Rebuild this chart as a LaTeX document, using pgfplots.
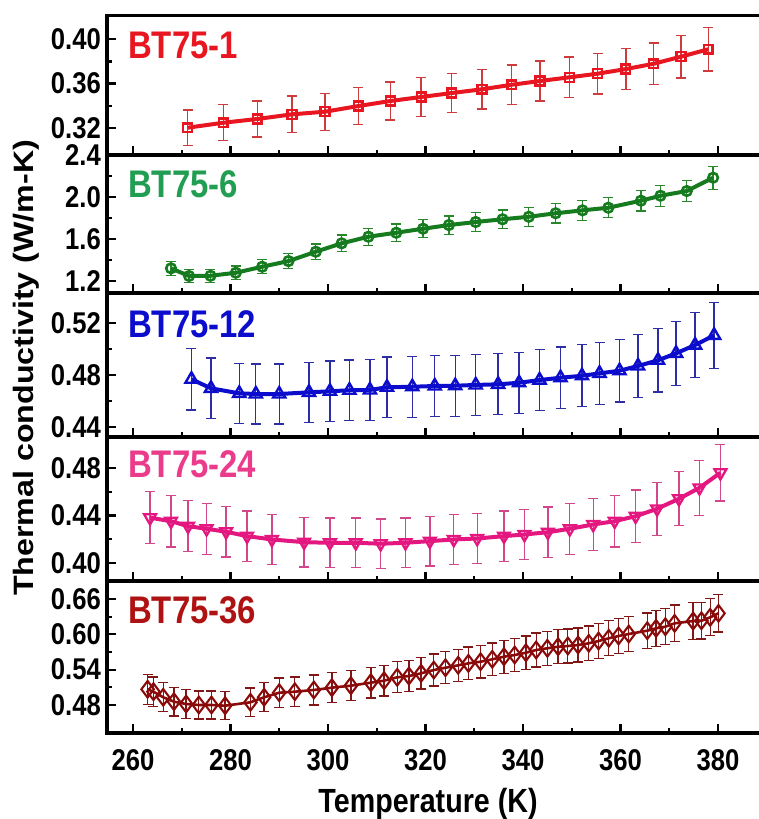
\documentclass[border=0pt]{standalone}
\usepackage{pgfplots}
\pgfplotsset{compat=1.18}
\usepackage{fontspec}
\setmainfont{Liberation Sans}[FakeStretch=0.855]
\newfontfamily\ylabfont{Liberation Sans}[FakeStretch=1.15]

\definecolor{redA}{RGB}{232,22,32}
\definecolor{redE}{RGB}{205,60,60}
\definecolor{grnA}{RGB}{22,122,30}
\definecolor{grnL}{RGB}{34,158,82}
\definecolor{grnE}{RGB}{40,135,40}
\definecolor{bluA}{RGB}{12,12,205}
\definecolor{bluE}{RGB}{45,45,165}
\definecolor{pnkA}{RGB}{228,22,128}
\definecolor{pnkL}{RGB}{235,60,140}
\definecolor{pnkE}{RGB}{210,70,140}
\definecolor{drdA}{RGB}{138,10,10}
\definecolor{drdL}{RGB}{175,18,18}
\definecolor{drdE}{RGB}{128,22,22}

% BT75-1
\pgfplotstableread{
T k
271.2 0.3200
278.5 0.3245
285.5 0.3279
292.6 0.3321
299.4 0.3345
306.2 0.3396
312.8 0.3442
319.1 0.3478
325.4 0.3514
331.6 0.3548
337.7 0.3589
343.5 0.3623
349.5 0.3656
355.3 0.3689
361.1 0.3731
366.8 0.3779
372.4 0.3843
378.0 0.3910
}\tabA
% BT75-6
\pgfplotstableread{
T k
267.8 1.321
271.5 1.248
275.9 1.250
281.1 1.279
286.5 1.336
291.9 1.390
297.5 1.479
302.8 1.559
308.3 1.622
314.0 1.660
319.5 1.698
324.8 1.733
330.3 1.762
335.8 1.788
341.2 1.812
346.7 1.845
352.2 1.873
357.5 1.898
364.2 1.965
368.2 2.012
373.6 2.057
379.0 2.184
}\tabB
% BT75-12
\pgfplotstableread{
T k
272.0 0.4767
276.0 0.4697
281.8 0.4658
285.2 0.4653
290.0 0.4653
296.1 0.4666
300.4 0.4674
304.4 0.4682
308.6 0.4684
312.1 0.4705
317.3 0.4709
321.9 0.4715
326.1 0.4717
330.3 0.4723
334.9 0.4728
339.2 0.4740
343.4 0.4761
347.7 0.4779
352.1 0.4794
355.7 0.4813
359.8 0.4833
363.6 0.4870
367.7 0.4914
371.4 0.4968
375.3 0.5032
379.2 0.5107
}\tabC
% BT75-24
\pgfplotstableread{
T k
263.5 0.4381
267.8 0.4352
271.3 0.4310
275.1 0.4288
279.1 0.4263
283.4 0.4226
288.5 0.4198
295.1 0.4175
300.4 0.4170
305.7 0.4170
310.8 0.4162
315.9 0.4170
320.9 0.4184
325.8 0.4198
330.6 0.4206
336.1 0.4226
340.3 0.4240
345.1 0.4259
349.6 0.4288
354.4 0.4324
358.8 0.4352
363.1 0.4394
367.5 0.4456
372.0 0.4541
376.2 0.4633
380.5 0.4760
}\tabD
% BT75-36
\pgfplotstableread{
T k
263.0 0.5067
264.2 0.5026
266.2 0.4931
268.4 0.4856
270.9 0.4817
273.5 0.4800
276.1 0.4800
278.9 0.4788
284.1 0.4846
286.9 0.4931
290.0 0.5009
293.2 0.5026
297.1 0.5055
300.8 0.5094
304.7 0.5128
308.8 0.5179
311.5 0.5213
314.2 0.5270
316.6 0.5292
319.1 0.5338
321.7 0.5394
324.1 0.5433
326.7 0.5474
328.8 0.5508
331.3 0.5535
333.7 0.5576
336.1 0.5620
338.3 0.5649
340.6 0.5688
342.7 0.5734
345.0 0.5763
347.2 0.5790
349.2 0.5802
351.3 0.5819
353.5 0.5848
355.5 0.5887
357.6 0.5933
359.6 0.5972
361.7 0.6006
365.5 0.6062
367.3 0.6102
369.2 0.6130
371.1 0.6187
374.9 0.6226
376.6 0.6231
378.4 0.6289
380.1 0.6357
}\tabE

\tikzset{
  tag/.style={anchor=base west, inner sep=0pt,
    font=\fontsize{38.5}{38}\selectfont\bfseries},
}
\pgfplotsset{
  panel/.style={
    scale only axis, width=663pt,
    xmin=254.67, xmax=390.67,
    tick align=inside, tick pos=left,
    xtick={260,280,...,380}, minor x tick num=1, minor y tick num=1,
    major tick length=9pt, minor tick length=5pt,
    tick style={black, line width=2.2pt},
    axis line style={black, line width=3.3pt},
    ticklabel style={font=\fontsize{30}{30}\selectfont\bfseries},
    /pgf/number format/assume math mode=true,
    yticklabel style={anchor=east, inner sep=0pt, xshift=-6pt,
      /pgf/number format/.cd, fixed, fixed zerofill, precision=2},
  },
  nolabels/.style={xticklabels={}},
  % 5 % uncertainty bars, drawn underneath the data line and marks
  errbars/.style={draw=none, mark=none, forget plot,
    error bars/.cd, y dir=both, y fixed relative=0.05,
    error bar style={draw=#1, line width=1.3pt},
    error mark options={draw=#1, line width=1.3pt, mark size=5pt, rotate=90}},
}

\begin{document}
\begin{tikzpicture}
\useasboundingbox (0pt,0pt) rectangle (758pt,-819pt);

% BT75-1
\begin{axis}[panel, nolabels, at={(107pt,-15.7pt)}, anchor=north west,
  height=139.3pt, ymin=0.2953, ymax=0.4214, ytick={0.32,0.36,0.40}]
\addplot[errbars=redE] table[x=T, y=k] {\tabA};
\addplot[redA, line width=4pt, mark=square, mark size=4.4pt,
  mark options={fill=white, line width=2.4pt}]
  table[x=T, y=k] {\tabA};
\node[tag, text=redA] at (rel axis cs:0,1) [yshift=-42.5pt, xshift=21pt] {BT75-1};
\end{axis}

% BT75-6
\begin{axis}[panel, nolabels, at={(107pt,-155pt)}, anchor=north west,
  height=138pt, ymin=1.086, ymax=2.40, ytick={1.2,1.6,2.0,2.4},
  yticklabel style={/pgf/number format/precision=1}]
\addplot[errbars=grnE] table[x=T, y=k] {\tabB};
\addplot[grnA, line width=4pt, mark=o, mark size=4.8pt,
  mark options={fill=white, line width=2.6pt}]
  table[x=T, y=k] {\tabB};
\node[tag, text=grnL] at (rel axis cs:0,1) [yshift=-42pt, xshift=21pt] {BT75-6};
\end{axis}

% BT75-12
\begin{axis}[panel, nolabels, at={(107pt,-293pt)}, anchor=north west,
  height=144pt, ymin=0.432, ymax=0.5435, ytick={0.44,0.48,0.52},
  ylabel={Thermal conductivity (W/m-K)},
  ylabel style={at={(rel axis cs:-0.1222,0.48)}, anchor=center,
    font=\ylabfont\fontsize{28}{28}\selectfont\bfseries}]
\addplot[errbars=bluE] table[x=T, y=k] {\tabC};
\addplot[bluA, line width=4pt, mark=triangle, mark size=7pt,
  mark options={fill=white, line width=2.4pt}]
  table[x=T, y=k] {\tabC};
\node[tag, text=bluA] at (rel axis cs:0,1) [yshift=-44pt, xshift=21pt] {BT75-12};
\end{axis}

% BT75-24
\begin{axis}[panel, nolabels, at={(107pt,-437pt)}, anchor=north west,
  height=144pt, ymin=0.3848, ymax=0.5061, ytick={0.40,0.44,0.48}]
\addplot[errbars=pnkE] table[x=T, y=k] {\tabD};
\addplot[pnkA, line width=4pt, mark=triangle, mark size=6.8pt,
  mark options={fill=white, line width=2.3pt, rotate=180}]
  table[x=T, y=k] {\tabD};
\node[tag, text=pnkL] at (rel axis cs:0,1) [yshift=-40pt, xshift=21pt] {BT75-24};
\end{axis}

% BT75-36
\begin{axis}[panel, at={(107pt,-581pt)}, anchor=north west,
  height=152pt, ymin=0.4324, ymax=0.6906, ytick={0.48,0.54,0.60,0.66},
  xticklabel style={anchor=north, inner sep=0pt, yshift=-16pt},
  xlabel={Temperature (K)},
  xlabel style={at={(rel axis cs:0.4842,-0.52)}, anchor=base,
    font=\fontsize{33.5}{34}\selectfont\bfseries}]
\addplot[errbars=drdE] table[x=T, y=k] {\tabE};
\addplot[drdA, line width=2.6pt, mark=diamond, mark size=8.3pt,
  mark options={fill=white, line width=2.1pt}]
  table[x=T, y=k] {\tabE};
\node[tag, text=drdL] at (rel axis cs:0,1) [yshift=-42.3pt, xshift=21pt] {BT75-36};
\end{axis}
\end{tikzpicture}
\end{document}
